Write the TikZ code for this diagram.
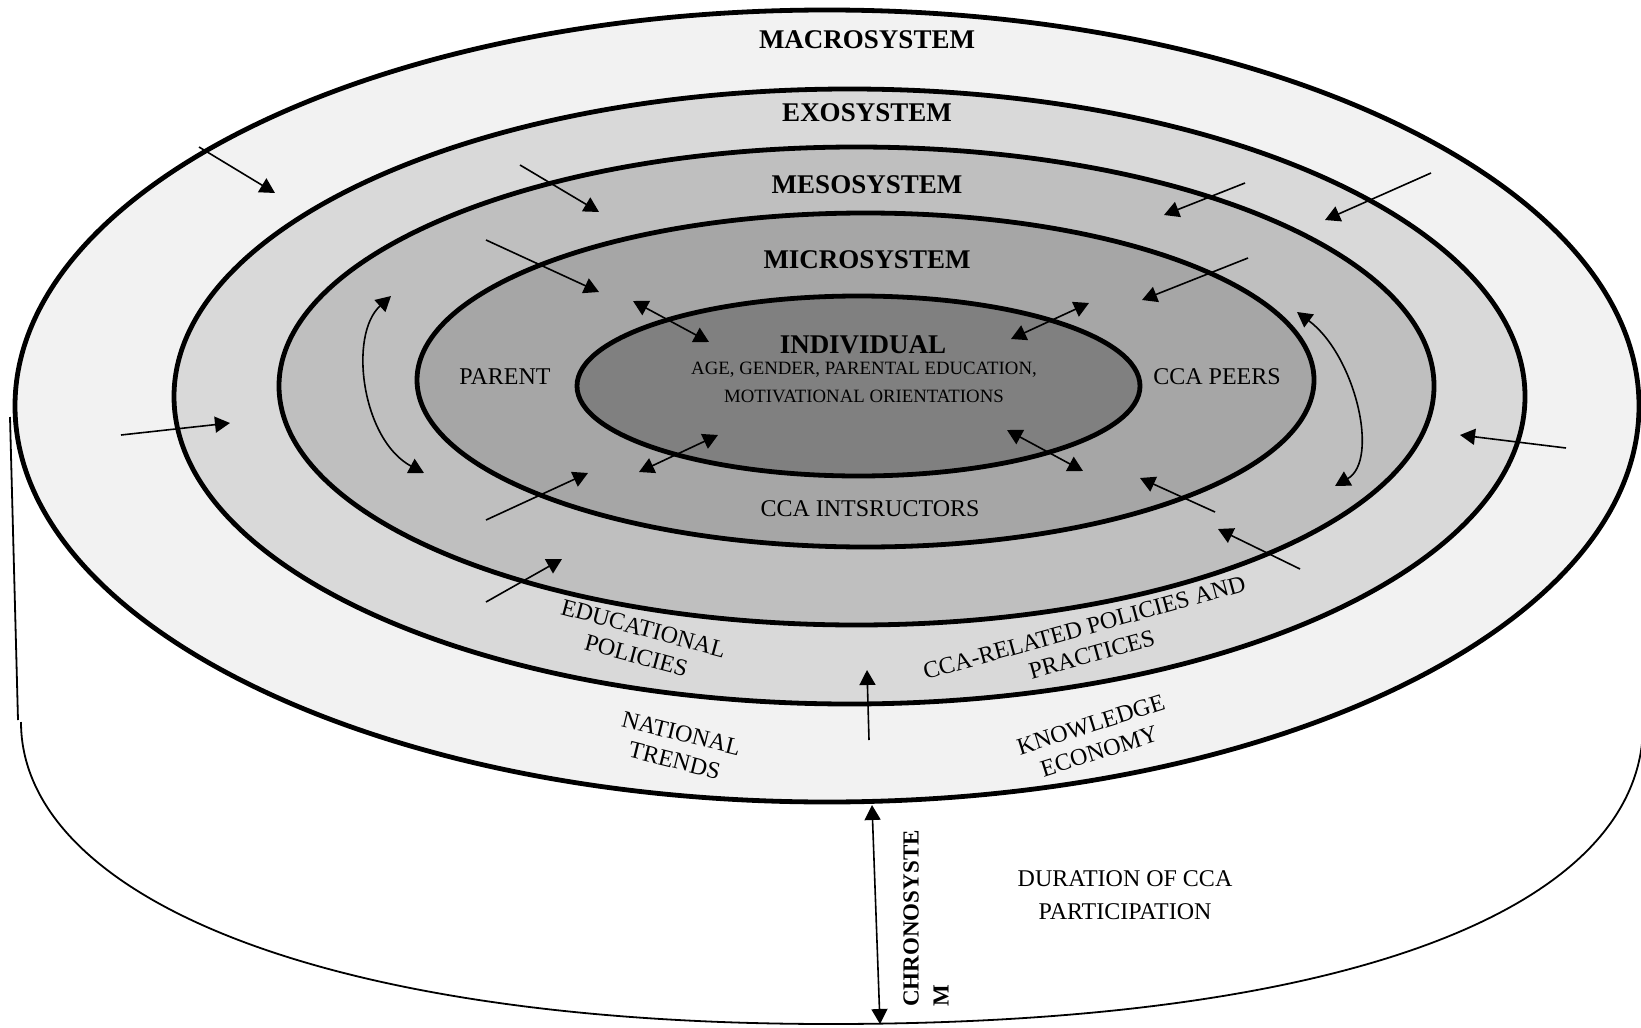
\documentclass[tikz,border=0pt]{standalone}
\usepackage{fontspec}
\setmainfont{Liberation Serif}
\usetikzlibrary{arrows.meta}
\definecolor{cMacro}{HTML}{F2F2F2}
\definecolor{cExo}{HTML}{D9D9D9}
\definecolor{cMeso}{HTML}{BFBFBF}
\definecolor{cMicro}{HTML}{A6A6A6}
\definecolor{cIndiv}{HTML}{808080}
\begin{document}
\begin{tikzpicture}[x=0.5pt,y=-0.5pt,
  ring/.style={draw=black,line width=2.4pt},
  cyl/.style={draw=black,line width=0.9pt},
  arr/.style={line width=0.8pt,-{Triangle[length=7.5pt,width=8pt]}},
  darr/.style={line width=0.8pt,{Triangle[length=7.5pt,width=8pt]}-{Triangle[length=7.5pt,width=8pt]}},
  syslabel/.style={font=\fontsize{13.5}{16}\selectfont\bfseries,inner sep=0pt},
  lab/.style={font=\fontsize{12}{14}\selectfont,inner sep=0pt,align=center},
  smalllab/.style={font=\fontsize{9.4}{12}\selectfont,inner sep=0pt}
]
\useasboundingbox (0,0) rectangle (1641,1027);
\fill[white] (0,0) rectangle (1641,1027);

% cylinder (chronosystem body)
\coordinate (cylA) at (10,417);
\coordinate (cylB) at (18,720);
\coordinate (cylC) at (21,722);
\coordinate (cylD) at (830,1024);
\coordinate (cylE) at (1643,725);
\draw[cyl] (cylA) -- (cylB);
\draw[cyl] (cylC) .. controls (21,890) and (304,1024) .. (cylD)
  .. controls (1357,1024) and (1643,905) .. (cylE);

% rings
\draw[ring,fill=cMacro] (827,406) ellipse [x radius=406pt, y radius=198pt];
\draw[ring,fill=cExo] (849.5,396.5) ellipse [x radius=337.75pt, y radius=153.75pt];
\draw[ring,fill=cMeso] (856.5,386) ellipse [x radius=288.75pt, y radius=119.5pt];
\draw[ring,fill=cMicro] (865.5,380) ellipse [x radius=224.25pt, y radius=83.5pt];
\draw[ring,fill=cIndiv] (858.5,386) ellipse [x radius=140.75pt, y radius=45pt];

% arrow end points
\coordinate (m1a) at (199,147);  \coordinate (m1b) at (275,193);
\coordinate (m2a) at (121,435);  \coordinate (m2b) at (230,423);
\coordinate (m3a) at (1431,173); \coordinate (m3b) at (1325,220);
\coordinate (m4a) at (1566,448); \coordinate (m4b) at (1460,435);
\coordinate (m5a) at (869,740);  \coordinate (m5b) at (867,670);
\coordinate (e1a) at (520,165);  \coordinate (e1b) at (599,212);
\coordinate (e2a) at (1245,183); \coordinate (e2b) at (1164,215);
\coordinate (e3a) at (486,602);  \coordinate (e3b) at (562,559);
\coordinate (e4a) at (1300,569); \coordinate (e4b) at (1218,529);
\coordinate (s1a) at (486,240);  \coordinate (s1b) at (599,292);
\coordinate (s2a) at (1248,258); \coordinate (s2b) at (1142,300);
\coordinate (s3a) at (486,520);  \coordinate (s3b) at (588,473);
\coordinate (s4a) at (1215,512); \coordinate (s4b) at (1140,478);
\coordinate (c1a) at (391,296);  \coordinate (c1b) at (424,473);
\coordinate (c2a) at (1297,312); \coordinate (c2b) at (1335,486);
\coordinate (d1a) at (633,301);  \coordinate (d1b) at (709,342);
\coordinate (d2a) at (1011,339); \coordinate (d2b) at (1089,303);
\coordinate (d3a) at (639,472);  \coordinate (d3b) at (718,435);
\coordinate (d4a) at (1007,430); \coordinate (d4b) at (1083,471);
\coordinate (cha) at (872,805);  \coordinate (chb) at (880,1024);

% single arrows
\foreach \p in {m1,m2,m3,m4,m5,e1,e2,e3,e4,s1,s2,s3,s4}
  \draw[arr] (\p a) -- (\p b);
% double arrows
\foreach \p in {d1,d2,d3,d4,ch}
  \draw[darr] (\p a) -- (\p b);
\draw[darr] (c1a) .. controls (348,335) and (362,440) .. (c1b);
\draw[darr] (c2a) .. controls (1355,355) and (1380,460) .. (c2b);

% labels
\node[syslabel] (macro) at (867,40) {MACROSYSTEM};
\node[syslabel] (exo) at (867,113) {EXOSYSTEM};
\node[syslabel] (meso) at (867,185) {MESOSYSTEM};
\node[syslabel] (micro) at (867,260) {MICROSYSTEM};
\node[syslabel] (indiv) at (863,345) {INDIVIDUAL};
\node[smalllab] (attr1) at (864,370) {AGE, GENDER, PARENTAL EDUCATION,};
\node[smalllab] (attr2) at (864,396) {MOTIVATIONAL ORIENTATIONS};
\node[lab] (parent) at (505,377) {PARENT};
\node[lab] (peers) at (1217,377) {CCA PEERS};
\node[lab] (instr) at (870,509) {CCA INTSRUCTORS};
\node[lab,rotate=-15] (edupol) at (640,642) {EDUCATIONAL\\POLICIES};
\node[lab,rotate=-14] (nattr) at (678,747) {NATIONAL\\TRENDS};
\node[lab,rotate=15.5] (ccapol) at (1088,641) {CCA-RELATED POLICIES AND\\PRACTICES};
\node[lab,rotate=17.5] (knowl) at (1095,738) {KNOWLEDGE\\ECONOMY};
\node[lab,font=\fontsize{12}{16.5}\selectfont] (dur) at (1125,895) {DURATION OF CCA\\PARTICIPATION};
\node[rotate=90,anchor=north west,inner sep=0pt,align=left,
  font=\fontsize{11.5}{15}\selectfont\bfseries] (chrono) at (903,1007) {CHRONOSYSTE\\M};
\end{tikzpicture}
\end{document}
